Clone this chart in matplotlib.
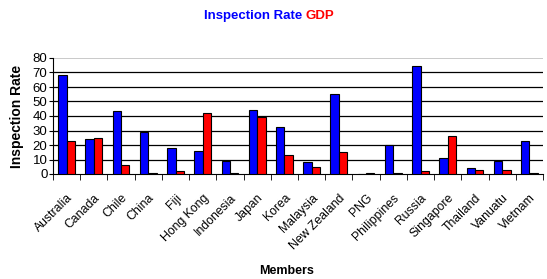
import matplotlib
matplotlib.use("Agg")
import matplotlib.pyplot as plt
import numpy as np

members = ["Australia", "Canada", "Chile", "China", "Fiji", "Hong Kong", "Indonesia",
           "Japan", "Korea", "Malaysia", "New Zealand", "PNG", "Philippines", "Russia",
           "Singapore", "Thailand", "Vanuatu", "Vietnam"]
inspection_rate = [68, 24, 43.5, 29, 18, 16, 9, 44, 32.5, 8, 55, 0, 20, 74.5, 11, 4, 9, 23]
gdp = [23, 25, 6, 1, 2, 42, 0.5, 39, 13, 4.5, 15, 0.5, 1, 2, 26, 2.5, 2.5, 0.5]
yticks = [0, 10, 20, 30, 40, 50, 60, 70, 80]

plt.rcParams['font.family'] = ['Liberation Sans', 'DejaVu Sans']
fig = plt.figure(figsize=(5.47, 2.79), dpi=100)
ax = fig.add_axes([53/547, 1-174/279, 490/547, 116/279])

x = np.arange(len(members))
w = 0.31
ax.bar(x - w/2, inspection_rate, w, color='#0000ff', edgecolor='black', linewidth=0.8, zorder=3)
ax.bar(x + w/2, gdp, w, color='#ff0000', edgecolor='black', linewidth=0.8, zorder=3)

ax.set_xlim(-0.5, len(members) - 0.5)
ax.set_ylim(0, 80)
ax.set_yticks(yticks)
ax.set_yticklabels([str(t) for t in yticks], fontsize=9.5)
for t in yticks[1:-1]:
    ax.axhline(t, color='black', linewidth=0.9, zorder=1)
ax.axhline(80, color='#c0c0c0', linewidth=1.2, zorder=1)

ax.set_xticks(x)
ax.set_xticklabels(members, rotation=45, ha='right', rotation_mode='anchor', fontsize=8.8)
ax.set_xticks(np.arange(-0.5, len(members), 1), minor=True)
ax.tick_params(axis='x', which='major', length=0, pad=13)
ax.tick_params(axis='x', which='minor', length=4, direction='out', color='black')
ax.tick_params(axis='y', length=3, direction='out', pad=1)

for s in ['top', 'right']:
    ax.spines[s].set_visible(False)
ax.spines['left'].set_color('black')
ax.spines['bottom'].set_color('black')

ax.set_ylabel("Inspection Rate", fontsize=10, fontweight='bold', labelpad=6)
fig.text(287/547, 1 - 271/279, "Members", ha='center', va='center', fontsize=9, fontweight='bold')

fig.text(306/547, 1 - 16/279, "Inspection Rate ", ha='right', va='center', fontsize=9.5, fontweight='bold', color='#0000ff')
fig.text(306/547, 1 - 16/279, "GDP", ha='left', va='center', fontsize=9.5, fontweight='bold', color='#ff0000')

fig.savefig("out.png", dpi=100)
